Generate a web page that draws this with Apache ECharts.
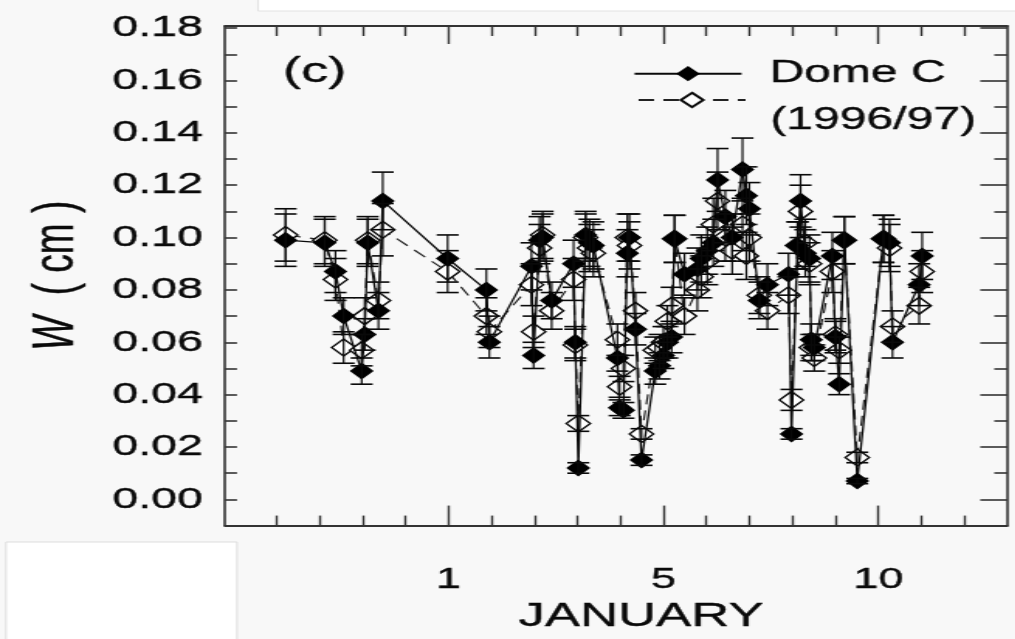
<!DOCTYPE html>
<html><head><meta charset="utf-8">
<script src="https://cdn.jsdelivr.net/npm/echarts@6/dist/echarts.min.js"></script>
<style>
html,body{margin:0;padding:0;background:#f8f8f8;overflow:hidden;}
#wrap{width:1015px;height:639px;overflow:hidden;position:relative;}
#chart{position:absolute;left:0;top:0;height:639px;transform-origin:0 0;}
</style></head><body>
<div id="wrap"><div id="chart"></div></div>
<script>
// ---- data (x = day position on the axis, label "1" at 0) ----
const days = [-3.79,-2.88,-2.63,-2.44,-2.02,-1.95,-1.88,-1.63,-1.53,-0.02,
  0.88,0.95,1.93,1.98,2.12,2.19,2.40,2.91,2.95,3.02,
  3.19,3.28,3.37,3.93,3.98,4.07,4.16,4.21,4.35,4.49,
  4.81,4.91,5.00,5.09,5.19,5.26,5.49,5.79,5.88,6.02,
  6.16,6.26,6.44,6.60,6.84,6.93,7.00,7.23,7.42,7.91,
  7.98,8.12,8.19,8.30,8.40,8.44,8.51,8.93,9.00,9.09,
  9.21,9.51,10.12,10.26,10.33,10.95,11.02];
const domeC = [0.099,0.098,0.087,0.070,0.049,0.063,0.098,0.072,0.114,0.092,
  0.080,0.060,0.089,0.055,0.099,0.100,0.076,0.090,0.060,0.012,
  0.101,0.098,0.097,0.054,0.035,0.034,0.094,0.100,0.065,0.015,
  0.049,0.051,0.055,0.060,0.062,0.0995,0.086,0.088,0.092,0.095,
  0.098,0.122,0.108,0.100,0.126,0.116,0.111,0.076,0.082,0.086,
  0.025,0.097,0.114,0.094,0.092,0.061,0.058,0.093,0.062,0.044,
  0.099,0.007,0.0995,0.098,0.060,0.082,0.093];
const domeCErr = [0.010,0.009,0.008,0.007,0.005,0.006,0.009,0.007,0.011,0.009,
  0.008,0.006,0.009,0.005,0.009,0.009,0.007,0.009,0.006,0.002,
  0.009,0.009,0.009,0.005,0.003,0.003,0.009,0.009,0.006,0.002,
  0.005,0.005,0.005,0.006,0.006,0.009,0.008,0.008,0.009,0.009,
  0.009,0.012,0.010,0.009,0.012,0.011,0.010,0.007,0.008,0.008,
  0.002,0.009,0.010,0.009,0.009,0.006,0.005,0.009,0.006,0.004,
  0.009,0.001,0.009,0.009,0.006,0.008,0.009];
const dashed = [0.101,0.099,0.084,0.058,0.057,0.070,0.099,0.076,0.103,0.087,
  0.070,0.064,0.082,0.064,0.096,0.101,0.072,0.084,0.059,0.029,
  0.100,0.096,0.094,0.061,0.043,0.050,0.100,0.097,0.072,0.025,
  0.057,0.058,0.060,0.068,0.074,0.0995,0.070,0.080,0.085,0.091,
  0.105,0.114,0.100,0.095,0.105,0.093,0.100,0.078,0.072,0.078,
  0.038,0.097,0.110,0.098,0.090,0.058,0.054,0.087,0.063,0.057,
  0.099,0.016,0.0995,0.096,0.066,0.074,0.087];
const dashedErr = [0.010,0.009,0.008,0.006,0.006,0.007,0.009,0.007,0.010,0.008,
  0.007,0.006,0.008,0.006,0.009,0.009,0.007,0.008,0.006,0.003,
  0.009,0.009,0.009,0.006,0.004,0.005,0.009,0.009,0.007,0.002,
  0.005,0.005,0.006,0.006,0.007,0.009,0.007,0.008,0.008,0.009,
  0.010,0.011,0.009,0.009,0.010,0.009,0.009,0.007,0.007,0.007,
  0.004,0.009,0.010,0.009,0.008,0.005,0.005,0.008,0.006,0.005,
  0.009,0.002,0.009,0.009,0.006,0.007,0.008];
const xTickValues = [0, 5, 10];
const xTickLabels = ['1', '5', '10'];
const xMinorTicks = [-4,-3,-2,-1,1,2,3,4,6,7,8,9,11,12];
const yLabelValues = [0,0.02,0.04,0.06,0.08,0.10,0.12,0.14,0.16,0.18];
const yMinorTicks = [0.01,0.03,0.05,0.07,0.09,0.11,0.13,0.15,0.17];
const yAllTicks = [0,0.01,0.02,0.03,0.04,0.05,0.06,0.07,0.08,0.09,0.10,0.11,0.12,0.13,0.14,0.15,0.16,0.17,0.18];
const seriesNames = ['Dome C', '(1996/97)'];

// ---- layout (image is horizontally stretched) ----
const S = 1.55;
const W = 1015 / S;
const px = v => v / S;
const el = document.getElementById('chart');
el.style.width = W + 'px';
el.style.transform = 'scaleX(' + S + ')';
const FONT = "'Liberation Sans', Arial, sans-serif";
const INK = '#0a0a0a';
const XMIN = -5.2, XMAX = 13, YMIN = -0.01, YMAX = 0.1808;
const BOLDEN = {textBorderColor: INK, textBorderWidth: 0.35};

const chart = echarts.init(el, null, {renderer: 'canvas'});

function xAx(pos, ticks, len, extra) {
  return Object.assign({
    type: 'value', min: XMIN, max: XMAX, position: pos,
    axisLine: {show: true, onZero: false, lineStyle: {color: '#333', width: 2}},
    axisTick: {show: true, inside: true, length: len, customValues: ticks, lineStyle: {color: '#333', width: 1.4}},
    axisLabel: {show: false}, splitLine: {show: false}
  }, extra || {});
}
function yAx(pos, ticks, len, extra) {
  return Object.assign({
    type: 'value', min: YMIN, max: YMAX, position: pos,
    axisLine: {show: true, onZero: false, lineStyle: {color: '#333', width: 1.6}},
    axisTick: {show: true, inside: true, length: len, customValues: ticks, lineStyle: {color: '#333', width: 1.6}},
    axisLabel: {show: false}, splitLine: {show: false}
  }, extra || {});
}

function errSeries(vals, errs, z) {
  return {
    type: 'custom', xAxisIndex: 0, yAxisIndex: 0, z: z, silent: true,
    data: days.map((d, i) => [d, vals[i], errs[i]]),
    renderItem: function (params, api) {
      const x = api.value(0), y = api.value(1), e = api.value(2);
      const t = api.coord([x, y + e]);
      const b = api.coord([x, y - e]);
      const hw = px(11);
      const st = {stroke: INK, lineWidth: 1.2};
      const stH = {stroke: INK, lineWidth: 1.6};
      return {type: 'group', children: [
        {type: 'line', shape: {x1: t[0], y1: t[1], x2: b[0], y2: b[1]}, style: st},
        {type: 'line', shape: {x1: t[0] - hw, y1: t[1], x2: t[0] + hw, y2: t[1]}, style: stH},
        {type: 'line', shape: {x1: b[0] - hw, y1: b[1], x2: b[0] + hw, y2: b[1]}, style: stH}
      ]};
    }
  };
}

const option = {
  animation: false,
  backgroundColor: '#f8f8f8',
  textStyle: {fontFamily: FONT, color: INK},
  title: {text: '(c)', left: px(283), top: 55, padding: 0,
    textStyle: Object.assign({fontSize: 35, fontWeight: 'normal', color: INK, fontFamily: FONT}, BOLDEN)},
  graphic: [
    {type: 'rect', z: -10, shape: {x: px(6), y: 542, width: px(231), height: 110},
      style: {fill: '#ffffff', stroke: '#dddddd', lineWidth: 1}},
    {type: 'rect', z: -10, shape: {x: px(258), y: -4, width: px(770), height: 15},
      style: {fill: '#ffffff', stroke: '#e2e2e2', lineWidth: 1}}
  ],
  legend: [
    {data: [seriesNames[0]], left: px(633), top: 58, padding: 0, orient: 'vertical',
      itemWidth: px(107), itemHeight: 19, selectedMode: false,
      textStyle: Object.assign({fontSize: 31, color: INK, fontFamily: FONT, padding: [0, 0, 0, 13]}, BOLDEN)},
    {data: [seriesNames[1]], left: px(637), top: 60, padding: 0, orient: 'vertical',
      itemWidth: px(107), itemHeight: 18, selectedMode: false,
      formatter: '\n{name}',
      textStyle: Object.assign({fontSize: 31, lineHeight: 40, color: INK, fontFamily: FONT, padding: [0, 0, 0, 11]}, BOLDEN)}
  ],
  grid: {left: px(225), right: px(8), top: 26, bottom: 111, containLabel: false},
  xAxis: [
    xAx('bottom', xTickValues, 20, {
      axisLabel: Object.assign({show: true, customValues: xTickValues, margin: 40, fontSize: 29, color: INK, fontFamily: FONT,
        formatter: v => xTickLabels[xTickValues.indexOf(v)] || ''}, BOLDEN),
      name: 'JANUARY', nameLocation: 'middle', nameGap: 63,
      nameTextStyle: Object.assign({fontSize: 34, color: INK, fontFamily: FONT, padding: [0, 0, 0, px(50)]}, BOLDEN)
    }),
    xAx('bottom', xMinorTicks, 10, {axisLine: {show: false, onZero: false}}),
    xAx('top', xTickValues, 18),
    xAx('top', xMinorTicks, 10, {axisLine: {show: false, onZero: false}})
  ],
  yAxis: [
    yAx('left', yAllTicks, px(12), {
      axisLabel: Object.assign({show: true, customValues: yLabelValues, margin: px(22), fontSize: 30, color: INK, fontFamily: FONT,
        formatter: v => v.toFixed(2)}, BOLDEN),
      name: '{it|W}  ( cm )', nameLocation: 'middle', nameRotate: 90, nameGap: 90,
      nameTextStyle: Object.assign({fontSize: 37, color: INK, fontFamily: FONT,
        rich: {it: Object.assign({fontSize: 37, fontStyle: 'italic', fontFamily: FONT, color: INK}, BOLDEN)}}, BOLDEN)
    }),
    yAx('right', yLabelValues, px(27)),
    yAx('right', yMinorTicks, px(13), {axisLine: {show: false, onZero: false}})
  ],
  series: [
    {
      type: 'line', name: seriesNames[1], xAxisIndex: 0, yAxisIndex: 0, z: 3,
      data: days.map((d, i) => [d, dashed[i]]),
      symbol: 'diamond', symbolSize: [px(24), 17],
      itemStyle: {color: '#ffffff', borderColor: INK, borderWidth: 1.4},
      lineStyle: {color: '#222', width: 1.2, type: [10, 6]},
      emphasis: {disabled: true}
    },
    {
      type: 'line', name: seriesNames[0], xAxisIndex: 0, yAxisIndex: 0, z: 4,
      data: days.map((d, i) => [d, domeC[i]]),
      symbol: 'diamond', symbolSize: [px(24), 17],
      itemStyle: {color: '#000000'},
      lineStyle: {color: INK, width: 1.3},
      emphasis: {disabled: true}
    },
    errSeries(dashed, dashedErr, 5),
    errSeries(domeC, domeCErr, 6)
  ]
};
chart.setOption(option);
</script>
</body></html>
